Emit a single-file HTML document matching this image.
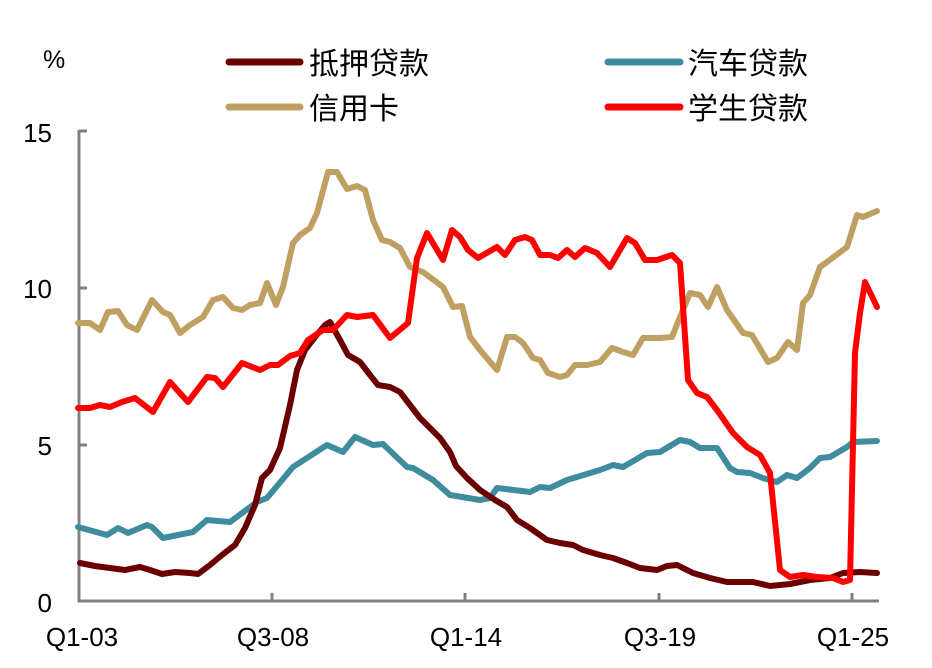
<!DOCTYPE html>
<html><head><meta charset="utf-8"><style>
body{margin:0;background:#fff}
svg{display:block}
text{font-family:"Liberation Sans","Noto Sans CJK SC",sans-serif;fill:#000}
</style></head><body>
<svg width="932" height="668" viewBox="0 0 932 668">
<g stroke="#808080" stroke-width="3" fill="none">
<path d="M79,130 V601 H879"/>
<path d="M79,131 H87 M79,288 H87 M79,445 H87"/>
<path d="M272,601 V593 M465,601 V593 M659,601 V593 M852,601 V593"/>
</g>
<g font-size="26" text-anchor="end">
<text x="52" y="142">15</text>
<text x="52" y="298">10</text>
<text x="52" y="455">5</text>
<text x="52" y="612">0</text>
</g>
<g font-size="26" text-anchor="middle">
<text x="82" y="646">Q1-03</text>
<text x="273" y="646">Q3-08</text>
<text x="466" y="646">Q1-14</text>
<text x="660" y="646">Q3-19</text>
<text x="853" y="646">Q1-25</text>
</g>
<text x="43" y="68" font-size="25">%</text>
<g stroke-width="7" stroke-linecap="round">
<line x1="229" y1="62" x2="300" y2="62" stroke="#6b0000"/>
<line x1="608" y1="62" x2="680" y2="62" stroke="#3f8c9e"/>
<line x1="229" y1="107" x2="300" y2="107" stroke="#c0a062"/>
<line x1="608" y1="107" x2="680" y2="107" stroke="#ff0000"/>
</g>
<g font-size="30">
<text x="309" y="74">抵押贷款</text>
<text x="688" y="74">汽车贷款</text>
<text x="309" y="119">信用卡</text>
<text x="688" y="119">学生贷款</text>
</g>
<g fill="none" stroke-width="6" stroke-linejoin="round" stroke-linecap="round">
<polyline stroke="#c0a062" points="78,323 90,323 100,330 108,312 118,311 127,325 137,330 152,300 163,312 170,315 180,333 190,325 203,317 213,300 223,297 233,308 242,310 250,305 260,303 267,283 276,305 283,287 293,243 300,235 310,228 317,213 328,172 337,172 347,189 357,186 365,190 373,220 382,240 390,242 400,248 410,267 423,272 443,287 453,307 462,306 470,337 480,350 497,370 507,337 515,337 523,343 533,358 540,360 548,373 560,377 567,375 575,365 587,365 600,362 612,348 623,352 633,355 643,338 660,338 672,337 680,317 690,293 700,295 708,307 717,287 727,310 743,333 752,335 768,362 777,358 788,342 797,350 803,303 810,295 820,267 827,262 847,247 857,215 863,217 877,211"/>
<polyline stroke="#3f8c9e" points="78,527 107,535 118,528 128,533 147,525 152,527 163,538 193,532 207,520 230,522 257,502 267,498 293,467 327,445 343,452 355,437 373,445 383,444 407,467 413,468 433,480 450,495 480,500 490,498 497,488 530,492 540,487 550,488 567,480 600,470 613,465 623,467 647,453 660,452 680,440 690,442 700,448 717,448 730,468 737,472 750,473 763,478 777,482 787,475 797,478 810,468 820,458 830,457 847,447 853,442 877,441"/>
<polyline stroke="#6b0000" points="80,563 95,566 110,568 125,570 140,567 150,570 162,574 175,572 190,573 198,574 210,565 222,555 235,545 245,528 255,505 262,478 270,470 280,448 290,405 297,370 305,350 315,337 325,325 330,322 340,340 348,355 360,362 370,375 378,385 390,387 400,392 410,405 420,418 430,428 440,438 450,452 456,466 467,478 480,490 495,500 507,507 517,520 530,528 547,540 560,543 573,545 583,550 600,555 613,558 627,563 640,568 657,570 667,566 677,565 693,573 710,578 727,582 753,582 770,586 790,584 810,580 830,578 843,573 860,572 877,573"/>
<polyline stroke="#ff0000" points="78,408 90,408 100,405 110,407 122,402 135,398 153,412 170,382 188,402 207,377 215,378 223,387 242,363 260,370 270,365 278,365 290,356 300,353 308,340 323,330 333,330 347,315 357,317 373,315 390,338 408,323 417,258 427,233 443,260 452,230 460,237 468,250 478,258 497,247 505,255 515,240 525,237 532,240 540,255 550,255 558,258 567,250 575,257 585,248 597,253 610,267 627,238 635,243 645,260 657,260 672,255 680,263 688,380 697,393 707,397 717,410 733,433 747,447 760,455 770,473 780,570 790,577 803,575 817,577 833,578 843,582 850,580 855,353 860,313 865,282 877,307"/>
</g>
</svg>
</body></html>
